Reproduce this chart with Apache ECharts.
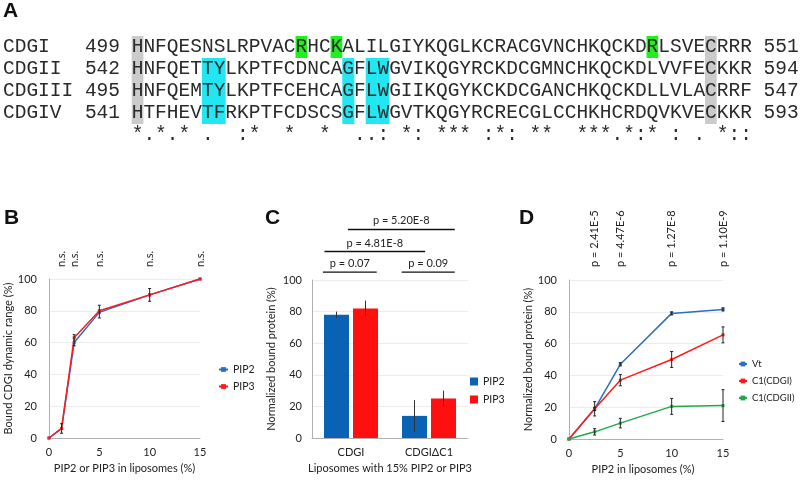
<!DOCTYPE html>
<html><head><meta charset="utf-8">
<script src="https://cdn.jsdelivr.net/npm/echarts@6/dist/echarts.min.js"></script>
<style>html,body{margin:0;padding:0;background:#fff}#c{width:800px;height:481px}</style>
</head><body><div id="c"></div>
<script>
// ---------- Panel A: alignment ----------
const seqNames = ['CDGI', 'CDGII', 'CDGIII', 'CDGIV'];
const seqStart = [499, 542, 495, 541];
const seqEnd = [551, 594, 547, 593];
const sequences = [
  'HNFQESNSLRPVACRHCKALILGIYKQGLKCRACGVNCHKQCKDRLSVECRRR',
  'HNFQETTYLKPTFCDNCAGFLWGVIKQGYRCKDCGMNCHKQCKDLVVFECKKR',
  'HNFQEMTYLKPTFCEHCAGFLWGIIKQGYKCKDCGANCHKQCKDLLVLACRRF',
  'HTFHEVTFRKPTFCDSCSGFLWGVTKQGYRCRECGLCCHKHCRDQVKVECKKR'
];
const conservation = '*.*.* .  :*  *  *  ..: *: *** :*: **  ***.*:* : . *:: ';
const grayCols = [0, 49];
const greenCells = [[0, 14], [0, 17], [0, 44]];
const cyanCols = [6, 7, 18, 20, 21];
const cyanRows = [1, 2, 3];

// ---------- Panel B ----------
const bX = [0, 1.25, 2.5, 5, 10, 15];
const bPIP2 = [0, 6, 60, 79, 90, 100];
const bPIP3 = [0, 6, 63, 80, 90, 100];
const bErr = [0, 3, 3.5, 4, 4, 0];
const bSigX = [1.25, 2.5, 5, 10, 15];
const bSigText = ['n.s.', 'n.s.', 'n.s.', 'n.s.', 'n.s.'];

// ---------- Panel C ----------
const cCats = ['CDGI', 'CDGI\u0394C1'];
const cPIP2 = [78, 14];
const cPIP2Err = [2, 10];
const cPIP3 = [82, 25];
const cPIP3Err = [5, 5];
const cBrStart = [0.14, 1.15, 0.16, 0.46];
const cBrEnd = [0.83, 1.83, 1.45, 1.83];
const cBrLevel = [105, 105, 118, 132];
const cBrText = ['p = 0.07', 'p = 0.09', 'p = 4.81E-8', 'p = 5.20E-8'];

// ---------- Panel D ----------
const dX = [0, 2.5, 5, 10, 15];
const dVt = [0, 19, 47, 79, 81.5];
const dVtErr = [0, 1, 1, 1, 1];
const dC1I = [0, 19, 37, 50, 65.5];
const dC1IErr = [0, 4.5, 3.5, 5, 5];
const dC1II = [0, 4.5, 10, 20.5, 21];
const dC1IIErr = [0, 2, 3, 5, 10];
const dSigX = [2.5, 5, 10, 15];
const dSigText = ['p = 2.41E-5', 'p = 4.47E-6', 'p = 1.27E-8', 'p = 1.10E-9'];

// ---------- styling ----------
const FONT = 'Lato';
const FS = 11;
const TXT = '#222';
const AX = '#b0b0b0';
const SPLIT = '#ececec';
const BLUE = '#2a6fc2', RED = '#ff1a1a', GREEN = '#22a84a';
const BAR_BLUE = '#0a62b5', BAR_RED = '#ff1010';
const BAR_W = 25, BAR_GAP_PX = 4;

// panel A graphic
const CW = 11.7, AX0 = 3, ROW0 = 36, ROWH = 22;
const aEls = [];
grayCols.forEach(c => aEls.push({type: 'rect', shape: {x: AX0 + (11 + c) * CW, y: ROW0, width: CW, height: ROWH * 4}, style: {fill: '#cbcbcb'}}));
greenCells.forEach(([r, c]) => aEls.push({type: 'rect', shape: {x: AX0 + (11 + c) * CW, y: ROW0 + r * ROWH, width: CW, height: ROWH}, style: {fill: '#22ee22'}}));
cyanRows.forEach(r => cyanCols.forEach(c => aEls.push({type: 'rect', shape: {x: AX0 + (11 + c) * CW, y: ROW0 + r * ROWH, width: CW + 0.4, height: ROWH}, style: {fill: '#22e6f2'}})));
const lines = sequences.map((s, i) => seqNames[i].padEnd(6) + ' ' + seqStart[i] + ' ' + s + ' ' + seqEnd[i]);
lines.push(' '.repeat(11) + conservation);
lines.forEach((t, i) => aEls.push({type: 'text', x: AX0, y: ROW0 + ROWH / 2 + i * ROWH, style: {text: t, fontSize: 19.5, fontFamily: 'Liberation Mono', fill: '#2a2a2a', verticalAlign: 'middle', align: 'left'}}));
const letters = [['A', 3, 1], ['B', 4, 208], ['C', 265, 208], ['D', 519, 208]];
letters.forEach(([t, x, y]) => aEls.push({type: 'text', x, y, style: {text: t, fontSize: 21, fontWeight: 'bold', fontFamily: 'Liberation Sans', fill: '#111', verticalAlign: 'top'}}));

function errorItem(capW, dx, color) {
  return function (params, api) {
    const x = api.value(0), y = api.value(1), e = api.value(2);
    if (!e) return null;
    const t = api.coord([x, y + e]), b = api.coord([x, y - e]);
    const st = {stroke: color, lineWidth: 1};
    const X = t[0] + dx;
    const ch = [{type: 'line', shape: {x1: X, y1: t[1], x2: X, y2: b[1]}, style: st}];
    if (capW) {
      ch.push({type: 'line', shape: {x1: X - capW / 2, y1: t[1], x2: X + capW / 2, y2: t[1]}, style: st});
      ch.push({type: 'line', shape: {x1: X - capW / 2, y1: b[1], x2: X + capW / 2, y2: b[1]}, style: st});
    }
    return {type: 'group', children: ch};
  };
}
function vLabel(texts, offset) {
  return function (params, api) {
    const p = api.coord([api.value(0), api.value(1)]);
    return {type: 'text', x: p[0], y: p[1] - offset, rotation: Math.PI / 2,
      style: {text: texts[api.value(2)], fontSize: FS, fontFamily: FONT, fill: TXT, align: 'left', verticalAlign: 'middle'}};
  };
}
function valAxis(grid, extra) {
  return Object.assign({type: 'value', gridIndex: grid, min: 0, max: 100, interval: 20,
    axisLine: {show: true, lineStyle: {color: AX}}, axisTick: {show: false},
    splitLine: {show: true, lineStyle: {color: SPLIT}},
    axisLabel: {fontSize: FS, fontFamily: FONT, color: TXT, margin: 12},
    nameLocation: 'middle', nameTextStyle: {fontSize: FS, fontFamily: FONT, color: TXT}}, extra);
}
function xValAxis(grid, name, extra) {
  return Object.assign({type: 'value', gridIndex: grid, min: 0, max: 15, interval: 5,
    axisLine: {show: true, lineStyle: {color: AX}}, axisTick: {show: false}, splitLine: {show: false},
    axisLabel: {fontSize: FS, fontFamily: FONT, color: TXT, margin: 9},
    name, nameLocation: 'middle', nameGap: 25, nameTextStyle: {fontSize: FS, fontFamily: FONT, color: TXT}}, extra);
}
const lineBase = {type: 'line', symbol: 'rect', symbolSize: 3, showSymbol: true, lineStyle: {width: 1.5}};
const legText = {fontSize: 10.5, fontFamily: FONT, color: TXT};

const chart = echarts.init(document.getElementById('c'), null, {renderer: 'canvas'});
chart.setOption({
  animation: false,
  backgroundColor: '#fff',
  graphic: aEls,
  grid: [
    {left: 49, top: 279, width: 151, height: 159},
    {left: 312, top: 280, width: 156, height: 158},
    {left: 569, top: 280, width: 154, height: 159}
  ],
  xAxis: [
    xValAxis(0, 'PIP2 or PIP3 in liposomes (%)'),
    {type: 'category', gridIndex: 1, data: cCats, axisTick: {show: false},
      axisLine: {show: true, lineStyle: {color: AX}},
      axisLabel: {fontSize: FS, fontFamily: FONT, color: TXT, margin: 9},
      name: 'Liposomes with 15% PIP2 or PIP3', nameLocation: 'middle', nameGap: 25,
      nameTextStyle: {fontSize: FS, fontFamily: FONT, color: TXT}},
    {type: 'value', gridIndex: 1, min: 0, max: 2, show: false},
    xValAxis(2, 'PIP2 in liposomes (%)', {nameTextStyle: {fontSize: FS, fontFamily: FONT, color: TXT, padding: [0, 6, 0, 0]}})
  ],
  yAxis: [
    valAxis(0, {name: 'Bound CDGI dynamic range (%)', nameGap: 31}),
    valAxis(1, {name: 'Normalized bound protein (%)', nameGap: 35, axisLabel: {fontSize: FS, fontFamily: FONT, color: TXT, margin: 10}}),
    valAxis(2, {name: 'Normalized bound protein (%)', nameGap: 30})
  ],
  legend: [
    {data: ['PIP2', 'PIP3'], orient: 'vertical', left: 213, top: 359, itemWidth: 9, itemHeight: 6, itemGap: 6, selectedMode: false, textStyle: legText},
    {data: ['PIP2 bar', 'PIP3 bar'], formatter: n => n.replace(' bar', ''), orient: 'vertical', left: 465, top: 371, icon: 'rect', itemWidth: 8, itemHeight: 8, itemGap: 7, selectedMode: false, textStyle: legText},
    {data: ['Vt', 'C1(CDGI)', 'C1(CDGII)'], orient: 'vertical', left: 738, top: 359, padding: 0, itemWidth: 8, itemHeight: 6, itemGap: 7, selectedMode: false, textStyle: {fontSize: 9.5, fontFamily: FONT, color: TXT}}
  ],
  series: [
    // B
    Object.assign({}, lineBase, {name: 'PIP2', xAxisIndex: 0, yAxisIndex: 0, color: BLUE, data: bX.map((x, i) => [x, bPIP2[i]])}),
    Object.assign({}, lineBase, {name: 'PIP3', xAxisIndex: 0, yAxisIndex: 0, color: RED, data: bX.map((x, i) => [x, bPIP3[i]])}),
    {type: 'custom', xAxisIndex: 0, yAxisIndex: 0, renderItem: errorItem(3, 0, '#222'), data: bX.map((x, i) => [x, (bPIP2[i] + bPIP3[i]) / 2, bErr[i]]), z: 5},
    {type: 'custom', xAxisIndex: 0, yAxisIndex: 0, renderItem: vLabel(bSigText, 12), data: bSigX.map((x, i) => [x, 100, i])},
    // C
    {type: 'bar', name: 'PIP2 bar', xAxisIndex: 1, yAxisIndex: 1, color: BAR_BLUE, barWidth: BAR_W, barGap: (BAR_GAP_PX / BAR_W * 100) + '%', data: cPIP2},
    {type: 'bar', name: 'PIP3 bar', xAxisIndex: 1, yAxisIndex: 1, color: BAR_RED, barWidth: BAR_W, barGap: (BAR_GAP_PX / BAR_W * 100) + '%', data: cPIP3},
    {type: 'custom', xAxisIndex: 1, yAxisIndex: 1, renderItem: errorItem(0, -(BAR_W + BAR_GAP_PX) / 2, '#333'), data: cCats.map((c, i) => [i, cPIP2[i], cPIP2Err[i]]), z: 5},
    {type: 'custom', xAxisIndex: 1, yAxisIndex: 1, renderItem: errorItem(0, (BAR_W + BAR_GAP_PX) / 2, '#333'), data: cCats.map((c, i) => [i, cPIP3[i], cPIP3Err[i]]), z: 5},
    {type: 'custom', xAxisIndex: 2, yAxisIndex: 1, clip: false,
      renderItem: function (params, api) {
        const a = api.coord([api.value(0), api.value(2)]), b = api.coord([api.value(1), api.value(2)]);
        return {type: 'group', children: [
          {type: 'line', shape: {x1: a[0], y1: a[1], x2: b[0], y2: b[1]}, style: {stroke: '#111', lineWidth: 1.4}},
          {type: 'text', x: (a[0] + b[0]) / 2, y: a[1] - 8.5, style: {text: cBrText[api.value(3)], fontSize: FS, fontFamily: FONT, fill: TXT, align: 'center', verticalAlign: 'middle'}}
        ]};
      },
      data: cBrStart.map((s, i) => [s, cBrEnd[i], cBrLevel[i], i])},
    // D
    Object.assign({}, lineBase, {name: 'Vt', xAxisIndex: 3, yAxisIndex: 2, color: BLUE, data: dX.map((x, i) => [x, dVt[i]])}),
    Object.assign({}, lineBase, {name: 'C1(CDGI)', xAxisIndex: 3, yAxisIndex: 2, color: RED, data: dX.map((x, i) => [x, dC1I[i]])}),
    Object.assign({}, lineBase, {name: 'C1(CDGII)', xAxisIndex: 3, yAxisIndex: 2, color: GREEN, data: dX.map((x, i) => [x, dC1II[i]])}),
    {type: 'custom', xAxisIndex: 3, yAxisIndex: 2, renderItem: errorItem(3, 0, '#222'), data: dX.map((x, i) => [x, dVt[i], dVtErr[i]]), z: 5},
    {type: 'custom', xAxisIndex: 3, yAxisIndex: 2, renderItem: errorItem(3, 0, '#222'), data: dX.map((x, i) => [x, dC1I[i], dC1IErr[i]]), z: 5},
    {type: 'custom', xAxisIndex: 3, yAxisIndex: 2, renderItem: errorItem(3, 0, '#222'), data: dX.map((x, i) => [x, dC1II[i], dC1IIErr[i]]), z: 5},
    {type: 'custom', xAxisIndex: 3, yAxisIndex: 2, renderItem: vLabel(dSigText, 13), data: dSigX.map((x, i) => [x, 100, i])}
  ]
});
</script></body></html>
